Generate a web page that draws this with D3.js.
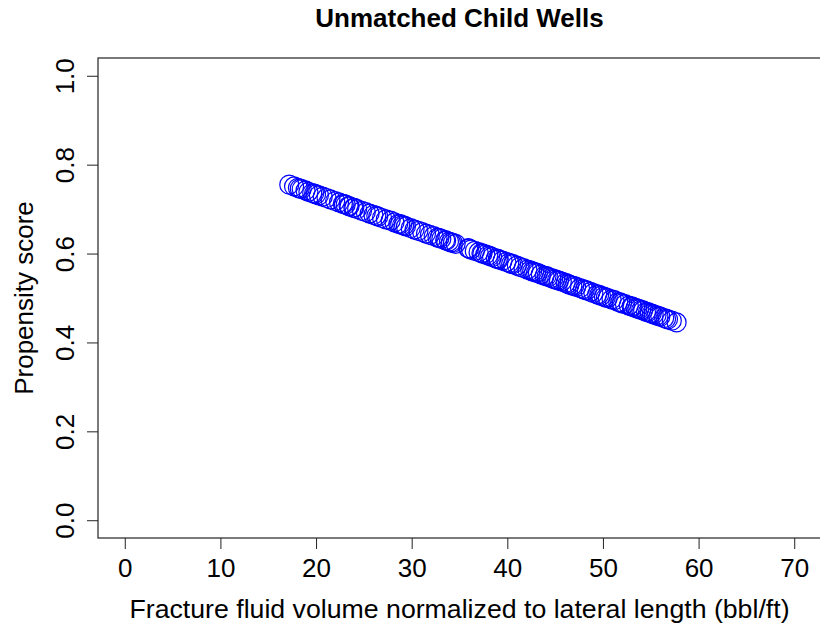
<!DOCTYPE html>
<html>
<head>
<meta charset="utf-8">
<script src="https://cdn.jsdelivr.net/npm/d3@7"></script>
<style>
	body { margin: 0; background: #fff; }
	svg { display: block; font-family: "Liberation Sans", Arial, sans-serif; }
</style>
</head>
<body>
<div id="visHolder"></div>
<script>
// fracture fluid volume (bbl/ft) of each unmatched child well
const fluidVolume = [
	17.2, 17.7, 18.1, 18.3, 18.5, 18.9, 19.2, 19.6, 19.8, 20.0, 20.3, 20.7,
	21.1, 21.5, 22.0, 22.4, 22.8, 22.9, 23.1, 23.4, 23.5, 23.9, 24.0, 24.3,
	24.8, 25.2, 25.6, 26.0, 26.3, 26.5, 26.9, 27.3, 27.8, 28.2, 28.6, 28.8,
	29.0, 29.2, 29.4, 29.9, 30.3, 30.7, 31.1, 31.5, 31.9, 32.3, 32.7, 32.9,
	33.1, 33.5, 33.6, 33.9, 34.1, 34.3, 34.6, 35.9, 36.0, 36.2, 36.6, 37.0,
	37.3, 37.4, 37.7, 38.0, 38.2, 38.4, 38.8, 39.0, 39.1, 39.5, 39.9, 40.2,
	40.4, 40.6, 41.0, 41.3, 41.7, 42.1, 42.4, 42.6, 42.8, 43.0, 43.2, 43.5,
	43.9, 44.1, 44.3, 44.6, 44.8, 45.0, 45.2, 45.4, 45.7, 46.1, 46.3, 46.5,
	46.8, 47.0, 47.2, 47.6, 47.9, 48.1, 48.3, 48.7, 49.0, 49.4, 49.6, 49.8,
	50.1, 50.3, 50.5, 50.9, 51.2, 51.6, 51.8, 52.0, 52.3, 52.7, 53.0, 53.1,
	53.4, 53.6, 53.8, 54.0, 54.2, 54.5, 54.7, 54.9, 55.1, 55.3, 55.6, 55.8,
	56.0, 56.4, 56.6, 56.8, 57.2, 57.7,
];
// propensity score of the same wells
const propensityScore = [
	0.755, 0.751, 0.748, 0.746, 0.745, 0.742, 0.739, 0.736, 0.735, 0.733, 0.731, 0.728,
	0.725, 0.722, 0.718, 0.715, 0.712, 0.711, 0.710, 0.707, 0.706, 0.703, 0.703, 0.700,
	0.696, 0.693, 0.690, 0.687, 0.685, 0.683, 0.680, 0.677, 0.674, 0.670, 0.667, 0.666,
	0.664, 0.663, 0.661, 0.657, 0.654, 0.651, 0.648, 0.645, 0.642, 0.639, 0.636, 0.635,
	0.633, 0.630, 0.629, 0.627, 0.625, 0.624, 0.622, 0.612, 0.611, 0.609, 0.606, 0.603,
	0.601, 0.600, 0.598, 0.596, 0.594, 0.592, 0.589, 0.588, 0.587, 0.584, 0.581, 0.579,
	0.577, 0.576, 0.573, 0.570, 0.567, 0.564, 0.562, 0.560, 0.559, 0.557, 0.556, 0.553,
	0.550, 0.549, 0.547, 0.545, 0.543, 0.542, 0.540, 0.539, 0.537, 0.534, 0.532, 0.530,
	0.528, 0.527, 0.525, 0.522, 0.520, 0.518, 0.517, 0.514, 0.511, 0.508, 0.507, 0.505,
	0.503, 0.501, 0.500, 0.497, 0.495, 0.491, 0.490, 0.488, 0.486, 0.483, 0.481, 0.480,
	0.478, 0.476, 0.475, 0.473, 0.472, 0.469, 0.468, 0.466, 0.465, 0.463, 0.461, 0.459,
	0.458, 0.455, 0.453, 0.452, 0.449, 0.445,
];
const xTicks = [0, 10, 20, 30, 40, 50, 60, 70];
const yTicks = [0, 0.2, 0.4, 0.6, 0.8, 1.0];
const xLimits = [0, 70];
const yLimits = [0, 1];

const title = "Unmatched Child Wells";
const xLabel = "Fracture fluid volume normalized to lateral length (bbl/ft)";
const yLabel = "Propensity score";

const width = 820;
const height = 630;
const box = { left: 98, right: 821, top: 58, bottom: 538 };
const fontSize = 26;

// R style: limits padded by 4% on each side
function padded([a, b]) {
	const pad = (b - a) * 0.04;
	return [a - pad, b + pad];
}

const x = d3.scaleLinear().domain(padded(xLimits)).range([box.left, box.right]);
const y = d3.scaleLinear().domain(padded(yLimits)).range([box.bottom, box.top]);

const svg = d3
	.select("#visHolder")
	.append("svg")
	.attr("width", width)
	.attr("height", height);

//points
const points = fluidVolume.map((v, i) => ({ v, p: propensityScore[i] }));
svg
	.append("g")
	.selectAll("circle")
	.data(points)
	.join("circle")
	.attr("cx", (d) => x(d.v))
	.attr("cy", (d) => y(d.p))
	.attr("r", 9.5)
	.attr("fill", "none")
	.attr("stroke", "#0000ff")
	.attr("stroke-width", 1.2);

//plot frame
svg
	.append("rect")
	.attr("x", box.left)
	.attr("y", box.top)
	.attr("width", box.right - box.left)
	.attr("height", box.bottom - box.top)
	.attr("fill", "none")
	.attr("stroke", "#333")
	.attr("stroke-width", 1.3);

//axes
const xAxis = svg
	.append("g")
	.attr("transform", `translate(0,${box.bottom})`)
	.call(d3.axisBottom(x).tickValues(xTicks).tickSize(11).tickFormat(d3.format("d")));
xAxis.select(".domain").remove();
xAxis.selectAll("line").attr("stroke", "#222");
xAxis
	.selectAll("text")
	.attr("font-size", fontSize)
	.attr("fill", "#000")
	.attr("font-family", "Liberation Sans, Arial, sans-serif")
	.attr("dy", 0)
	.attr("y", 577 - box.bottom);

const yAxis = svg
	.append("g")
	.attr("transform", `translate(${box.left},0)`)
	.call(d3.axisLeft(y).tickValues(yTicks).tickSize(11).tickFormat(d3.format(".1f")));
yAxis.select(".domain").remove();
yAxis.selectAll("line").attr("stroke", "#222");
yAxis
	.selectAll("text")
	.attr("font-size", fontSize)
	.attr("fill", "#000")
	.attr("font-family", "Liberation Sans, Arial, sans-serif")
	.attr("text-anchor", "middle")
	.attr("dy", 0)
	.attr("x", 0)
	.attr("transform", "translate(-24,0) rotate(-90)");

//labels
svg
	.append("text")
	.attr("x", (box.left + box.right) / 2)
	.attr("y", 27)
	.attr("text-anchor", "middle")
	.attr("font-size", 26)
	.attr("font-weight", "bold")
	.text(title);

svg
	.append("text")
	.attr("x", (box.left + box.right) / 2)
	.attr("y", 618)
	.attr("text-anchor", "middle")
	.attr("font-size", 26.7)
	.text(xLabel);

svg
	.append("text")
	.attr("transform", `translate(33,${(box.top + box.bottom) / 2}) rotate(-90)`)
	.attr("text-anchor", "middle")
	.attr("font-size", fontSize)
	.text(yLabel);
</script>
</body>
</html>
